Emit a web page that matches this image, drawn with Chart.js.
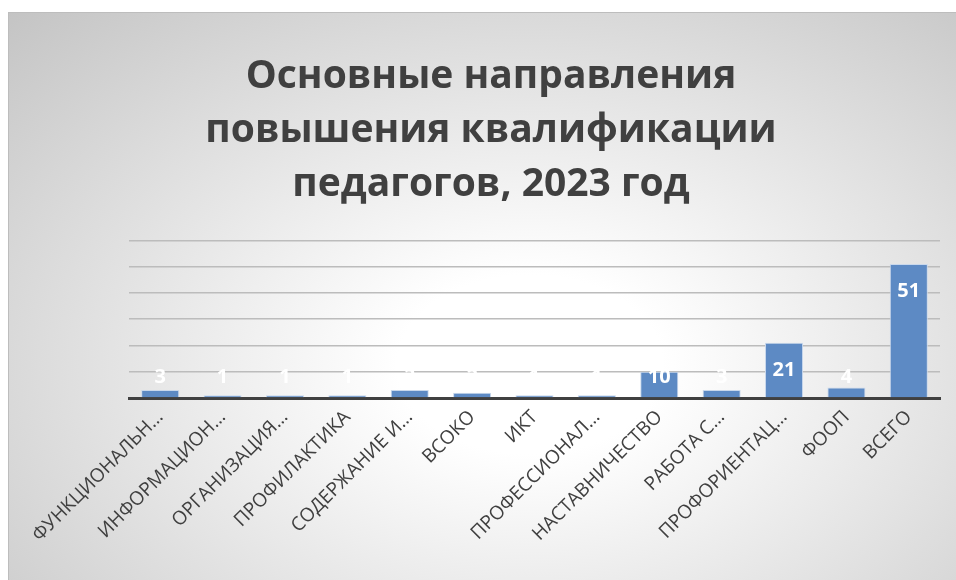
<!DOCTYPE html>
<html>
<head>
<meta charset="utf-8">
<script src="https://cdn.jsdelivr.net/npm/chart.js@4"></script>
<style>
    html, body { margin: 0; padding: 0; background: #fff; }
    #chart-wrapper {
        position: absolute;
        left: 8px;
        top: 12px;
        width: 948px;
        height: 568px;
        border-top: 1px solid #bdbdbd;
        border-left: 1px solid #bdbdbd;
        box-sizing: border-box;
        background: radial-gradient(ellipse farthest-corner at 55% 62%, #ffffff 0%, #ffffff 18%, #c4c4c4 100%);
    }
</style>
</head>
<body>
<div id="chart-wrapper">
    <canvas id="bar-chart" width="947" height="567"></canvas>
</div>
<script>
const categories = [
    "ФУНКЦИОНАЛЬН…",
    "ИНФОРМАЦИОН…",
    "ОРГАНИЗАЦИЯ…",
    "ПРОФИЛАКТИКА",
    "СОДЕРЖАНИЕ И…",
    "ВСОКО",
    "ИКТ",
    "ПРОФЕССИОНАЛ…",
    "НАСТАВНИЧЕСТВО",
    "РАБОТА С…",
    "ПРОФОРИЕНТАЦ…",
    "ФООП",
    "ВСЕГО"
];
const teachers = [3, 1, 1, 1, 3, 2, 1, 1, 10, 3, 21, 4, 51];
const titleLines = ["Основные направления", "повышения квалификации", "педагогов, 2023 год"];
const yMax = 60;
const yStep = 10;

// white value labels, inside the top of each bar (pushed up for short bars)
const valueLabels = {
    id: "valueLabels",
    afterDatasetsDraw(chart) {
        const ctx = chart.ctx;
        const meta = chart.getDatasetMeta(0);
        ctx.save();
        ctx.fillStyle = "#ffffff";
        ctx.font = "bold 20px 'Open Sans'";
        ctx.textAlign = "center";
        ctx.textBaseline = "middle";
        meta.data.forEach((bar, i) => {
            const y = Math.min(bar.y + 27, bar.base - 20);
            ctx.fillText(String(teachers[i]), bar.x, y);
        });
        ctx.restore();
    }
};

const ctx = document.getElementById("bar-chart").getContext("2d");
const barChart = new Chart(ctx, {
    type: "bar",
    data: {
        labels: categories,
        datasets: [{
            data: teachers,
            backgroundColor: "#5d8ac4",
            borderColor: "#c9d8ec",
            borderWidth: 1,
            barPercentage: 0.61,
            categoryPercentage: 1
        }]
    },
    options: {
        responsive: false,
        animation: false,
        layout: { padding: { top: 37, right: 16, left: 33, bottom: 0 } },
        plugins: {
            legend: { display: false },
            tooltip: { enabled: false },
            title: {
                display: true,
                text: titleLines,
                color: "#404040",
                font: { family: "'Open Sans'", size: 39, weight: "bold", lineHeight: 1.38 },
                padding: { top: 0, bottom: 29 }
            }
        },
        scales: {
            x: {
                grid: { display: false },
                border: { color: "#404040", width: 3 },
                ticks: {
                    color: "#404040",
                    font: { family: "'Open Sans'", size: 19 },
                    minRotation: 45,
                    maxRotation: 45,
                    autoSkip: false,
                    padding: 0
                },
                afterFit: (scale) => { scale.height = 182; }
            },
            y: {
                min: 0,
                max: yMax,
                ticks: { display: false, stepSize: yStep },
                grid: { color: "#bcbcbc", lineWidth: 1.5, drawTicks: false },
                border: { display: false },
                afterFit: (scale) => { scale.width = 87; }
            }
        }
    },
    plugins: [valueLabels]
});
</script>
</body>
</html>
